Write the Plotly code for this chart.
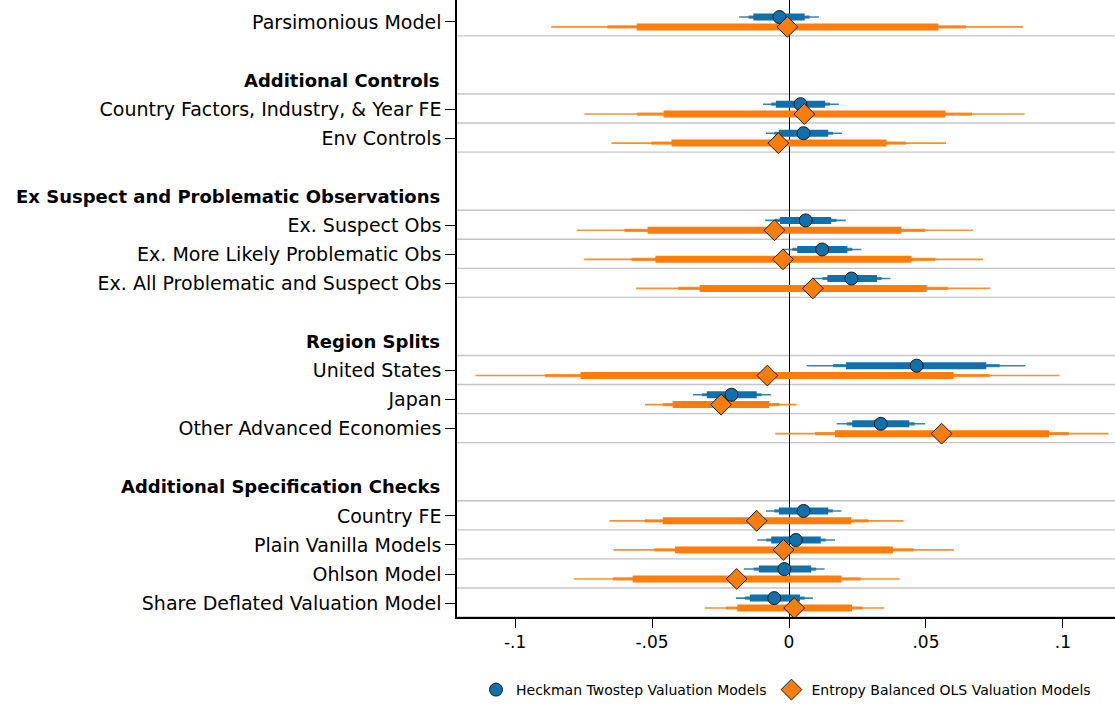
import plotly.graph_objects as go

# ---------------- data ----------------
rows = [0, 3, 4, 7, 8, 9, 12, 13, 14, 17, 18, 19, 20]
labels = ["Parsimonious Model", "Country Factors, Industry, & Year FE", "Env Controls",
          "Ex. Suspect Obs", "Ex. More Likely Problematic Obs", "Ex. All Problematic and Suspect Obs",
          "United States", "Japan", "Other Advanced Economies",
          "Country FE", "Plain Vanilla Models", "Ohlson Model", "Share Deflated Valuation Model"]
heading_rows = [2, 6, 11, 16]
headings = ["Additional Controls", "Ex Suspect and Problematic Observations",
            "Region Splits", "Additional Specification Checks"]

x_tickvals = [-0.1, -0.05, 0, 0.05, 0.1]
x_ticktext = ["-.1", "-.05", "0", ".05", ".1"]

series_names = ["Heckman Twostep Valuation Models", "Entropy Balanced OLS Valuation Models"]

# Heckman (blue)
heck_est = [-0.0035, 0.0042, 0.0053, 0.0061, 0.0121, 0.0228, 0.0466, -0.0210, 0.0335, 0.0053, 0.0025, -0.0017, -0.0054]
heck_lo90 = [-0.0130, -0.0048, -0.0037, -0.0033, 0.0030, 0.0140, 0.0208, -0.0300, 0.0231, -0.0037, -0.0065, -0.0110, -0.0143]
heck_hi90 = [0.0057, 0.0132, 0.0143, 0.0154, 0.0213, 0.0321, 0.0720, -0.0118, 0.0439, 0.0143, 0.0116, 0.0081, 0.0040]
heck_lo95 = [-0.0148, -0.0065, -0.0054, -0.0052, 0.0012, 0.0122, 0.0161, -0.0318, 0.0211, -0.0054, -0.0083, -0.0129, -0.0161]
heck_hi95 = [0.0075, 0.0150, 0.0161, 0.0173, 0.0231, 0.0338, 0.0769, -0.0100, 0.0459, 0.0160, 0.0134, 0.0099, 0.0057]
heck_lo99 = [-0.0182, -0.0095, -0.0084, -0.0087, -0.0022, 0.0087, 0.0065, -0.0351, 0.0174, -0.0084, -0.0116, -0.0165, -0.0194]
heck_hi99 = [0.0109, 0.0182, 0.0193, 0.0207, 0.0264, 0.0370, 0.0863, -0.0065, 0.0497, 0.0191, 0.0168, 0.0130, 0.0087]

# Entropy balanced OLS (orange)
ebal_est = [-0.0006, 0.0056, -0.0039, -0.0053, -0.0022, 0.0087, -0.0079, -0.0248, 0.0557, -0.0118, -0.0020, -0.0191, 0.0019]
ebal_lo90 = [-0.0556, -0.0458, -0.0429, -0.0516, -0.0488, -0.0326, -0.0761, -0.0425, 0.0168, -0.0461, -0.0416, -0.0571, -0.0189]
ebal_hi90 = [0.0545, 0.0571, 0.0356, 0.0410, 0.0447, 0.0502, 0.0601, -0.0073, 0.0949, 0.0227, 0.0379, 0.0191, 0.0230]
ebal_lo95 = [-0.0663, -0.0554, -0.0502, -0.0601, -0.0575, -0.0404, -0.0890, -0.0460, 0.0095, -0.0526, -0.0492, -0.0643, -0.0230]
ebal_hi95 = [0.0646, 0.0668, 0.0427, 0.0498, 0.0534, 0.0581, 0.0733, -0.0036, 0.1022, 0.0290, 0.0455, 0.0262, 0.0269]
ebal_lo99 = [-0.0868, -0.0747, -0.0648, -0.0775, -0.0748, -0.0559, -0.1144, -0.0526, -0.0050, -0.0655, -0.0641, -0.0786, -0.0307]
ebal_hi99 = [0.0854, 0.0860, 0.0573, 0.0671, 0.0708, 0.0734, 0.0988, 0.0028, 0.1166, 0.0418, 0.0602, 0.0404, 0.0348]

# ---------------- styling ----------------
BLUE = "#1170aa"
ORANGE = "#fc7d0b"
OFF = 0.17
FONT = "DejaVu Sans"


def seg(lo, hi, ys):
    xs, yy = [], []
    for a, b, y in zip(lo, hi, ys):
        xs += [a, b, None]
        yy += [y, y, None]
    return xs, yy


fig = go.Figure()

specs = [
    (heck_lo99, heck_hi99, heck_lo95, heck_hi95, heck_lo90, heck_hi90, BLUE, -OFF),
    (ebal_lo99, ebal_hi99, ebal_lo95, ebal_hi95, ebal_lo90, ebal_hi90, ORANGE, OFF),
]
for lo99, hi99, lo95, hi95, lo90, hi90, col, off in specs:
    ys = [r + off for r in rows]
    for lo, hi, w, op in [(lo99, hi99, 1.6, 0.85), (lo95, hi95, 3.2, 0.8), (lo90, hi90, 7, 1.0)]:
        xs, yy = seg(lo, hi, ys)
        fig.add_trace(go.Scatter(x=xs, y=yy, mode="lines", line=dict(color=col, width=w),
                                 opacity=op, showlegend=False, hoverinfo="skip"))

fig.add_trace(go.Scatter(x=heck_est, y=[r - OFF for r in rows], mode="markers", name=series_names[0],
                         marker=dict(symbol="circle", size=13, color=BLUE,
                                     line=dict(color="#1a1a1a", width=1))))
fig.add_trace(go.Scatter(x=ebal_est, y=[r + OFF for r in rows], mode="markers", name=series_names[1],
                         marker=dict(symbol="diamond", size=16, color=ORANGE,
                                     line=dict(color="#1a1a1a", width=1))))

shapes = []
for r in sorted(rows + heading_rows):
    shapes.append(dict(type="line", xref="paper", x0=0, x1=1, yref="y", y0=r + 0.48, y1=r + 0.48,
                       line=dict(color="#c4c4c4", width=1.4), layer="below"))

annotations = []
for r, h in zip(heading_rows, headings):
    annotations.append(dict(xref="paper", x=0, xanchor="right", xshift=-15, yref="y", y=r,
                            yanchor="middle", text="<b>" + h + "</b>", showarrow=False,
                            font=dict(family=FONT, size=18, color="black")))

fig.update_layout(
    width=1115, height=706,
    margin=dict(l=457, r=0, t=0, b=88),
    paper_bgcolor="white", plot_bgcolor="white",
    shapes=shapes, annotations=annotations,
    showlegend=True,
    legend=dict(orientation="h", x=0.5, xanchor="center", y=-0.118, yanchor="middle",
                font=dict(family=FONT, size=14, color="black"), bgcolor="rgba(0,0,0,0)"),
    font=dict(family=FONT, color="black"),
)
fig.update_xaxes(range=[-0.1212, 0.119], tickvals=x_tickvals, ticktext=x_ticktext,
                 showgrid=False, zeroline=True, zerolinecolor="black", zerolinewidth=1.4,
                 showline=True, linecolor="black", linewidth=1.5,
                 ticks="outside", ticklen=9, tickcolor="black", tickwidth=1.3,
                 tickfont=dict(family=FONT, size=17, color="black"))
fig.update_yaxes(range=[20.48, -0.756], tickvals=rows, ticktext=labels,
                 showgrid=False, zeroline=False,
                 showline=True, linecolor="black", linewidth=1.5,
                 ticks="outside", ticklen=10, tickcolor="black", tickwidth=1.3,
                 tickfont=dict(family=FONT, size=19, color="black"))

fig.write_html("out.html", config={"displayModeBar": False},
               post_script="document.body.style.margin='0px';")
